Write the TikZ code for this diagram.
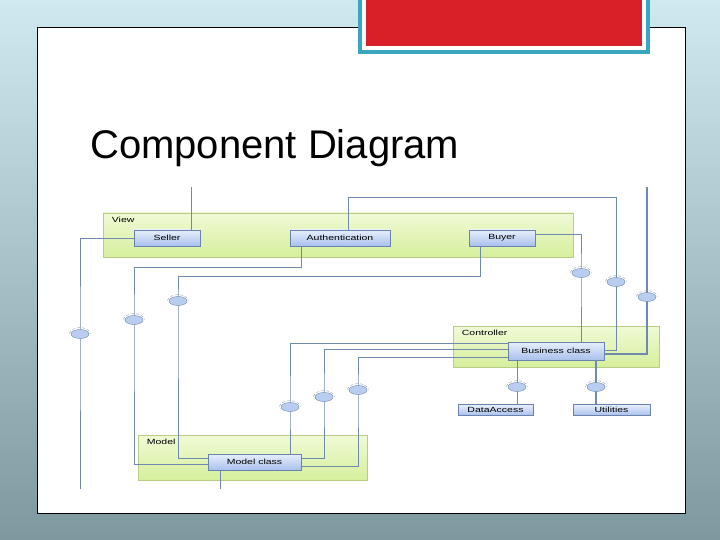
\documentclass[tikz,border=0pt]{standalone}
\usepackage{fontspec}
\setmainfont{Liberation Sans}
\newfontfamily\diagfont[FakeStretch=1.4]{Liberation Sans}
\usetikzlibrary{shapes.geometric}
\definecolor{bgtop}{HTML}{CFE9F0}
\definecolor{bgbot}{HTML}{7E989F}
\definecolor{slidered}{HTML}{D91F27}
\definecolor{slideteal}{HTML}{3AA6BD}
\definecolor{pkgtop}{HTML}{F0FAD6}
\definecolor{pkgbot}{HTML}{D6EF9C}
\definecolor{pkgline}{HTML}{B9CC86}
\definecolor{comptop}{HTML}{E8EFFC}
\definecolor{compbot}{HTML}{A8C0EC}
\definecolor{compline}{HTML}{6A83AE}
\definecolor{wireblue}{HTML}{6F8AAE}
\definecolor{ifblue}{HTML}{B9CDF0}

\begin{document}
\begin{tikzpicture}[x=1pt,y=-1pt,
        wire/.style = {draw=wireblue, line width=1pt},
        pkg/.style = {rectangle, draw=pkgline, top color=pkgtop,
            bottom color=pkgbot, line width=0.6pt},
        pkglabel/.style = {anchor=north west, inner sep=0pt,
            font=\diagfont\fontsize{7.5}{8}\selectfont},
        comp/.style = {rectangle, draw=compline, top color=comptop,
            bottom color=compbot, minimum height=16pt, inner sep=0pt,
            line width=0.7pt, font=\diagfont\fontsize{7.5}{8}\selectfont},
        lolli/.style = {ellipse, draw=wireblue, fill=ifblue,
            minimum width=18pt, minimum height=9pt, inner sep=0pt},
        socket/.style = {draw=wireblue!80, densely dashed, line width=0.4pt}]

        % Slide
        \useasboundingbox (0,0) rectangle (720,540);
        \clip (0,0) rectangle (720,540);
        \shade[top color=bgtop, bottom color=bgbot] (0,0) rectangle (720,540);
        \draw[black, line width=0.8pt, fill=white] (37,27) rectangle (685,513);
        \draw[slideteal, line width=4pt, fill=white] (360,-5) rectangle (648,52);
        \fill[slidered] (366,-5) rectangle (642,46);

        % Title
        \node[anchor=base west, inner sep=0pt,
            font=\fontsize{40}{48}\selectfont] (title) at (90,159) {Component Diagram};

        % Packages
        \node[pkg, minimum width=470pt, minimum height=44pt] (view) at (338,235) {};
        \node[pkg, minimum width=206pt, minimum height=41pt] (ctrl) at (556,346.5) {};
        \node[pkg, minimum width=229pt, minimum height=45pt] (model) at (252.5,457.5) {};
        \node[pkglabel] at ([shift={(9pt,-4pt)}]view.north west) {View};
        \node[pkglabel] at ([shift={(9pt,-4pt)}]ctrl.north west) {Controller};
        \node[pkglabel] at ([shift={(9pt,-4pt)}]model.north west) {Model};

        % Components
        \node[comp, minimum width=66pt] (seller) at (167,238) {Seller};
        \node[comp, minimum width=100pt] (auth) at (340,238) {Authentication};
        \node[comp, minimum width=66pt] (buyer) at (502,238) {Buyer};
        \node[comp, minimum width=96pt, minimum height=18pt] (bus) at (556,351) {Business class};
        \node[comp, minimum width=75pt, minimum height=11pt] (data) at (495.5,410) {DataAccess};
        \node[comp, minimum width=77pt, minimum height=11pt] (util) at (611.5,410) {Utilities};
        \node[comp, minimum width=93pt] (modelc) at (254.5,462) {Model class};

        % Free ends
        \coordinate (sellerEnd) at (191,187);
        \coordinate (leftEnd) at (80,489);
        \coordinate (rightEnd) at (647,187);
        \coordinate (modelEnd) at (220,489);

        % Interfaces
        \coordinate (iSeller) at (80,334);
        \coordinate (iAuthB) at (134,320);
        \coordinate (iBuyerB) at (178,301);
        \coordinate (iBuyerR) at (581,273);
        \coordinate (iAuthT) at (616,282);
        \coordinate (iRight) at (647,297);
        \coordinate (iModelA) at (290,407);
        \coordinate (iModelB) at (324,397);
        \coordinate (iModelC) at (358,390);
        \coordinate (iData) at (517,387);
        \coordinate (iUtil) at (596,387);

        % View connectors
        \draw[wire] (seller.north -| sellerEnd) -- (sellerEnd);
        \draw[wire] (seller.west) -| (iSeller) -- (leftEnd);
        \draw[wire] ([xshift=8pt]auth.north) |- (iAuthT |- 0,198) -- (iAuthT |- 0,350) -- (bus.east |- 0,350);
        \draw[wire] ([xshift=-39pt]auth.south) |- (iAuthB |- 0,267) -- (iAuthB) |- ([yshift=-2pt]modelc.west);
        \draw[wire] ([yshift=4pt]buyer.east) -| (iBuyerR) -- (iBuyerR |- bus.north);
        \draw[wire] ([xshift=-22pt]buyer.south) |- (iBuyerB |- 0,276) -- (iBuyerB) |- ([yshift=4pt]modelc.west);
        \draw[wire, line width=1.4pt] (rightEnd) |- (bus.east |- 0,354);

        % Model connectors
        \draw[wire] (modelc.south -| modelEnd) -- (modelEnd);
        \draw[wire] (modelc.north -| iModelA) -- (iModelA) |- (bus.west |- 0,343);
        \draw[wire] ([yshift=4pt]modelc.east) -| (iModelB) |- (bus.west |- 0,349);
        \draw[wire] ([yshift=-4pt]modelc.east) -| (iModelC) |- (bus.west |- 0,357);

        % Controller connectors
        \draw[wire] (bus.south -| iData) -- (data.north -| iData);
        \draw[wire, line width=1.4pt] (bus.south -| iUtil) -- (util.north -| iUtil);

        % Lollipops
        \foreach \i in {iSeller,iAuthB,iBuyerB,iBuyerR,iAuthT,iRight,iModelA,iModelB,iModelC,iData,iUtil} {
            \node[lolli] (\i-if) at (\i) {};
            \draw[socket] ([xshift=-1.5pt,yshift=0.5pt]\i-if.west) to[bend left=70] ([xshift=1.5pt,yshift=0.5pt]\i-if.east);
        }

    \end{tikzpicture}
\end{document}
